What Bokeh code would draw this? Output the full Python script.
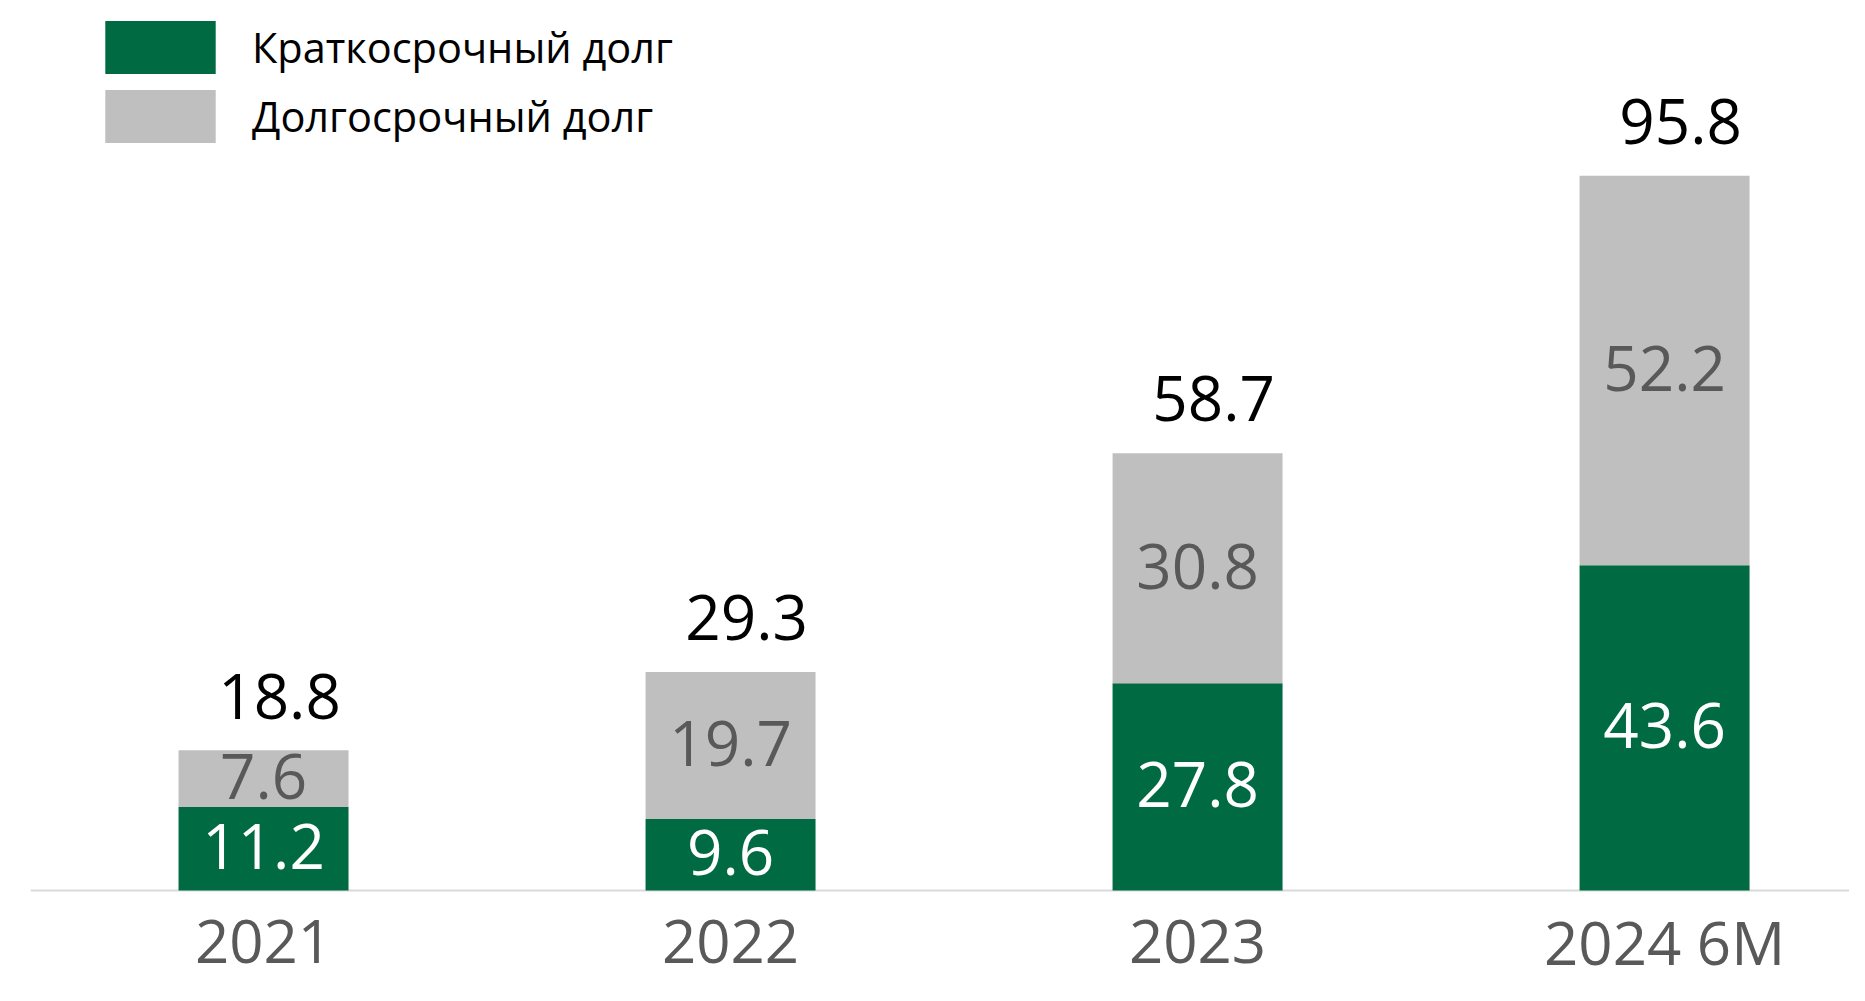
from bokeh.plotting import figure
from bokeh.models import ColumnDataSource, Range1d, Span, Legend, LegendItem
from bokeh.core.properties import value
from bokeh.embed import file_html
from bokeh.resources import INLINE

# ---- data ----
categories = ["2021", "2022", "2023", "2024 6M"]
short_term = [11.2, 9.6, 27.8, 43.6]
long_term = [7.6, 19.7, 30.8, 52.2]
totals = [18.8, 29.3, 58.7, 95.8]
series_names = ["Краткосрочный долг", "Долгосрочный долг"]

# ---- style ----
GREEN = "#006B42"
GREY = "#BFBFBF"
LABEL_GREY = "#595959"
FONT = "Open Sans"

idx = list(range(len(categories)))
src = ColumnDataSource(dict(
    x=idx,
    cat=categories,
    short=short_term,
    long_top=[s + l for s, l in zip(short_term, long_term)],
    short_mid=[s / 2 for s in short_term],
    long_mid=[s + l / 2 for s, l in zip(short_term, long_term)],
    total=totals,
    short_lbl=[f"{v:.1f}" for v in short_term],
    long_lbl=[f"{v:.1f}" for v in long_term],
    total_lbl=[f"{v:.1f}" for v in totals],
))

W, H = 1849, 985
p = figure(width=W, height=H, output_backend="svg", toolbar_location=None,
           x_range=Range1d(-0.499, 3.396), y_range=Range1d(-12.73, 119.30),
           x_axis_location=None, y_axis_location=None,
           min_border_left=30, min_border_right=0, min_border_top=0, min_border_bottom=0)
p.grid.visible = False
p.outline_line_color = None

base = Span(location=0, dimension="width", line_color="#D9D9D9", line_width=2, level="underlay")
p.add_layout(base)

r1 = p.vbar(x="x", bottom=0, top="short", width=0.364, fill_color=GREEN, line_color=None, source=src)
r2 = p.vbar(x="x", bottom="short", top="long_top", width=0.364, fill_color=GREY, line_color=None, source=src)

common = dict(text_font=value(FONT), text_font_size="62px", text_align="center", source=src)
p.text(x="x", y="short_mid", text="short_lbl", text_color="white", text_baseline="middle",
       y_offset=-2, **common)
p.text(x="x", y="long_mid", text="long_lbl", text_color=LABEL_GREY, text_baseline="middle",
       y_offset=-2, **common)
p.text(x="x", y="total", text="total_lbl", text_color="black", text_baseline="middle",
       x_offset=16, y_offset=-54, **common)
year_style = dict(common, text_font_size="60px")
p.text(x="x", y=0, text="cat", text_color=LABEL_GREY, text_baseline="alphabetic",
       y_offset=51, **year_style)

legend = Legend(items=[LegendItem(label=series_names[0], renderers=[r1]),
                       LegendItem(label=series_names[1], renderers=[r2])],
                location=(61, 836), glyph_width=138, glyph_height=66, label_standoff=23,
                spacing=3, padding=0, margin=0, border_line_color=None,
                background_fill_alpha=0, label_text_font=FONT, label_text_font_size="41.5px",
                label_text_color="black", label_height=66)
p.add_layout(legend, "center")

open("out.html", "w").write(file_html(p, INLINE))
